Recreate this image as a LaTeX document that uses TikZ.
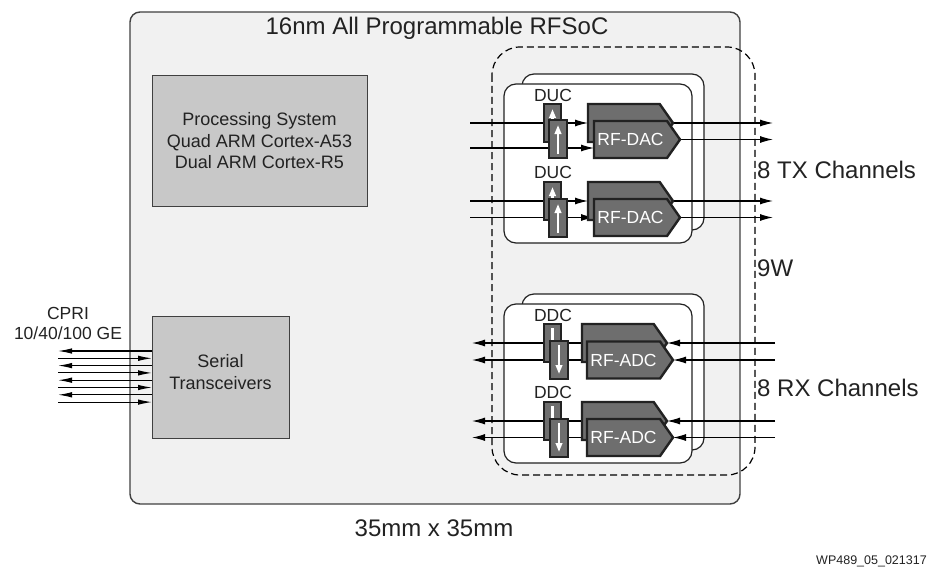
\documentclass[tikz,border=0pt]{standalone}
\usepackage{fontspec}
\setmainfont{Liberation Sans}
\usetikzlibrary{arrows.meta,shapes.symbols,backgrounds}

\definecolor{chipgray}{HTML}{F1F1F1}
\definecolor{boxgray}{HTML}{C8C8C8}
\definecolor{blockgray}{HTML}{6E6E6E}
\definecolor{edgegray}{HTML}{404040}
\definecolor{inkgray}{HTML}{222222}

\begin{document}
\begin{tikzpicture}[x=1pt,y=-1pt,
  bigtext/.style={font=\fontsize{24}{28}\selectfont,text=inkgray,inner sep=0pt},
  smalltext/.style={font=\fontsize{18}{21.5}\selectfont,text=inkgray,align=center},
  graybox/.style={draw=edgegray,line width=1pt,fill=boxgray,anchor=north west,inner sep=0pt,outer sep=0pt},
  card/.style={draw=inkgray,line width=1.2pt,fill=white,rounded corners=12pt},
  conv/.style={draw=inkgray,line width=2.4pt,fill=blockgray,anchor=north west,inner sep=0pt,outer sep=0pt,minimum width=17pt,minimum height=38pt},
  rfblock/.style={shape=signal,signal to=east,signal pointer angle=110,draw=inkgray,line width=2.4pt,fill=blockgray,anchor=west,inner sep=0pt,outer sep=0pt,minimum width=86pt,minimum height=37pt,text=white,font=\fontsize{17.5}{20}\selectfont},
  convlabel/.style={font=\fontsize{17.5}{20}\selectfont,text=inkgray,inner sep=0pt},
  sig/.style={line width=1.1pt,-{Latex[length=13pt,width=7pt]}},
  cpriout/.style={line width=1.1pt,{Latex[length=14pt,width=5.5pt]}-},
  cpriin/.style={line width=1.1pt,-{Latex[length=14pt,width=5.5pt]}},
  flow/.style={white,line width=2.2pt,-{Triangle[length=9pt,width=6.5pt]}},
  ]
\useasboundingbox (0,0) rectangle (928,567);

% chip outline, RF area and converter cards
\begin{pgfonlayer}{background}
\draw[draw=edgegray,line width=1.4pt,fill=chipgray,rounded corners=10pt] (130,12) rectangle (740,504);
\draw[line width=1.2pt,dash pattern=on 7pt off 4pt,rounded corners=28pt] (492,47) rectangle (755,475);
\draw[card] (522,74) rectangle (704,230);
\draw[card] (504,84) rectangle (692,243);
\draw[card] (522,294) rectangle (704,450);
\draw[card] (504,304) rectangle (692,463);
\end{pgfonlayer}

\node[bigtext] (title) at (437,28) {16nm All Programmable RFSoC};
\node[bigtext] (size) at (434,528) {35mm x 35mm};

\node[graybox,smalltext,minimum width=215pt,minimum height=130pt] (ps) at (152,76) {Processing System\\Quad ARM Cortex-A53\\Dual ARM Cortex-R5};
\node[graybox,minimum width=137pt,minimum height=122pt,
  label={[smalltext,yshift=5pt]center:Serial\\Transceivers}] (ser) at (152,316) {};

% CPRI links
\node[convlabel,align=center] (cpri) at (68,323) {CPRI\\10/40/100 GE};
\coordinate (c1) at (58,351);
\coordinate (c2) at (58,358.3);
\coordinate (c3) at (58,365.6);
\coordinate (c4) at (58,372.9);
\coordinate (c5) at (58,380.2);
\coordinate (c6) at (58,387.5);
\coordinate (c7) at (58,394.8);
\coordinate (c8) at (58,402.1);
\draw[cpriout] (c1) -- (c1 -| ser.west);
\draw[cpriin] (c2) -- (c2 -| ser.west);
\draw[cpriout] (c3) -- (c3 -| ser.west);
\draw[cpriin] (c4) -- (c4 -| ser.west);
\draw[cpriout] (c5) -- (c5 -| ser.west);
\draw[cpriin] (c6) -- (c6 -| ser.west);
\draw[cpriout] (c7) -- (c7 -| ser.west);
\draw[cpriin] (c8) -- (c8 -| ser.west);

% TX converters
\node[convlabel] (duc1) at (553,95) {DUC};
\node[conv] (ducA1) at (544,104) {};
\draw[flow] ([yshift=4pt]ducA1.south) -- ([yshift=-5pt]ducA1.north);
\node[conv,minimum width=18pt] (ducB1) at (549,120) {};
\draw[flow] ([yshift=4pt]ducB1.south) -- ([yshift=-5pt]ducB1.north);
\node[rfblock,minimum width=85pt,minimum height=38pt] (dacA1) at (588,123) {};
\node[rfblock] (dacB1) at (594,139.5) {RF-DAC};

\node[convlabel] (duc2) at (553,172) {DUC};
\node[conv] (ducA2) at (544,182) {};
\draw[flow] ([yshift=4pt]ducA2.south) -- ([yshift=-5pt]ducA2.north);
\node[conv,minimum width=18pt] (ducB2) at (549,199) {};
\draw[flow] ([yshift=4pt]ducB2.south) -- ([yshift=-5pt]ducB2.north);
\node[rfblock,minimum width=85pt,minimum height=38pt] (dacA2) at (588,201) {};
\node[rfblock] (dacB2) at (594,217.5) {RF-DAC};

% RX converters
\node[convlabel] (ddc1) at (553,315) {DDC};
\node[conv] (ddcA1) at (544,324) {};
\draw[flow] ([yshift=-4pt]ddcA1.north) -- ([yshift=5pt]ddcA1.south);
\node[conv,minimum width=18pt] (ddcB1) at (550,341) {};
\draw[flow] ([yshift=-4pt]ddcB1.north) -- ([yshift=5pt]ddcB1.south);
\node[rfblock,minimum width=85pt,minimum height=38pt] (adcA1) at (582,343) {};
\node[rfblock] (adcB1) at (587,360) {RF-ADC};

\node[convlabel] (ddc2) at (553,392) {DDC};
\node[conv] (ddcA2) at (544,402) {};
\draw[flow] ([yshift=-4pt]ddcA2.north) -- ([yshift=5pt]ddcA2.south);
\node[conv,minimum width=18pt] (ddcB2) at (550,419) {};
\draw[flow] ([yshift=-4pt]ddcB2.north) -- ([yshift=5pt]ddcB2.south);
\node[rfblock,minimum width=85pt,minimum height=38pt] (adcA2) at (582,421) {};
\node[rfblock] (adcB2) at (587,437.5) {RF-ADC};

% signal lines, kept under the blocks
\coordinate (txin) at (470,0);
\coordinate (txout) at (773,0);
\coordinate (rxin) at (775,0);
\coordinate (rxout) at (472,0);
\coordinate (t1b) at (470,148);
\begin{pgfonlayer}{background}
\draw[sig] (txin |- dacA1.west) -- (dacA1.west);
\draw[sig] (t1b) -- (t1b -| dacB1.west);
\draw[sig] (dacA1.east) -- (txout |- dacA1.east);
\draw[sig] (dacB1.east) -- (txout |- dacB1.east);
\draw[sig] (txin |- dacA2.west) -- (dacA2.west);
\draw[sig] (txin |- dacB2.west) -- (dacB2.west);
\draw[sig] (dacA2.east) -- (txout |- dacA2.east);
\draw[sig] (dacB2.east) -- (txout |- dacB2.east);
\draw[sig] (rxin |- adcA1.east) -- (adcA1.east);
\draw[sig] (rxin |- adcB1.east) -- (adcB1.east);
\draw[sig] (adcA1.west) -- (rxout |- adcA1.west);
\draw[sig] (adcB1.west) -- (rxout |- adcB1.west);
\draw[sig] (rxin |- adcA2.east) -- (adcA2.east);
\draw[sig] (rxin |- adcB2.east) -- (adcB2.east);
\draw[sig] (adcA2.west) -- (rxout |- adcA2.west);
\draw[sig] (adcB2.west) -- (rxout |- adcB2.west);
\end{pgfonlayer}

\node[bigtext,anchor=west] (txlabel) at (757,170) {8 TX Channels};
\node[bigtext,anchor=west] (power) at (757,268) {9W};
\node[bigtext,anchor=west] (rxlabel) at (757,388) {8 RX Channels};
\node[font=\fontsize{12.5}{14}\selectfont,text=inkgray,inner sep=0pt,anchor=west] (figid) at (816,561) {WP489\_05\_021317};
\end{tikzpicture}
\end{document}
